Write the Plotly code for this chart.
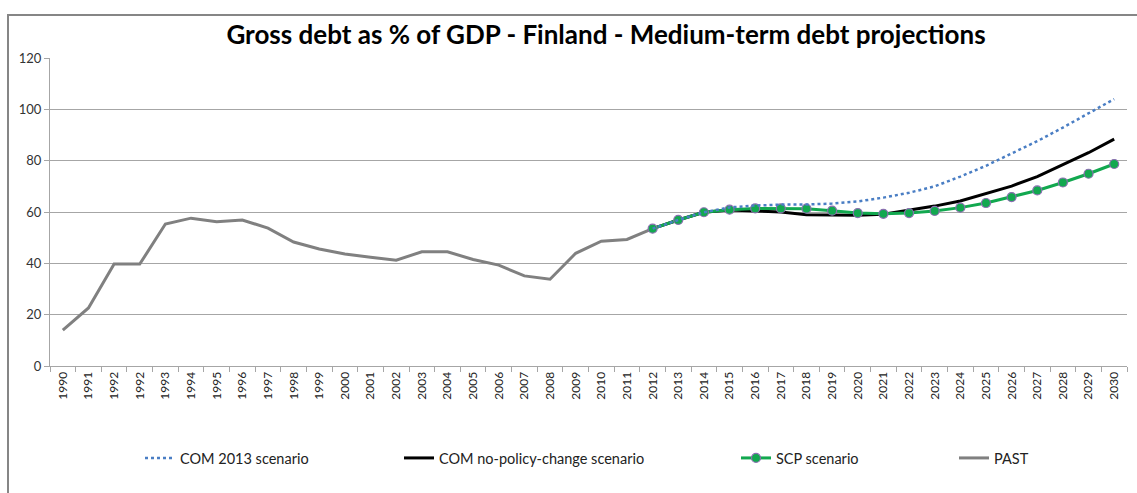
import plotly.graph_objects as go

# ---- data ----
tick_labels = ["1990", "1991", "1992", "1992", "1993", "1994", "1995", "1996", "1997",
               "1998", "1999", "2000", "2001", "2002", "2003", "2004", "2005", "2006",
               "2007", "2008", "2009", "2010", "2011", "2012", "2013", "2014", "2015",
               "2016", "2017", "2018", "2019", "2020", "2021", "2022", "2023", "2024",
               "2025", "2026", "2027", "2028", "2029", "2030"]

past = [14.0, 22.6, 39.7, 39.7, 55.3, 57.6, 56.2, 56.9, 53.7, 48.3, 45.6, 43.6,
        42.4, 41.2, 44.5, 44.5, 41.5, 39.3, 35.1, 33.8, 43.9, 48.6, 49.3, 53.5]

com_2013 = [53.5, 56.9, 59.9, 61.8, 62.5, 62.9, 62.9, 63.3, 64.1, 65.6, 67.5,
            70.0, 73.8, 78.0, 82.8, 87.6, 92.9, 98.4, 104.0]

com_npc = [53.5, 56.9, 59.9, 60.8, 60.4, 60.0, 58.9, 58.7, 58.7, 59.1, 60.7,
           62.3, 64.3, 67.3, 70.1, 73.8, 78.5, 83.1, 88.4]

scp = [53.5, 56.9, 59.9, 60.9, 61.4, 61.4, 61.3, 60.5, 59.6, 59.3, 59.6,
       60.4, 61.7, 63.5, 65.8, 68.4, 71.5, 74.9, 78.7]

y_ticks = [0, 20, 40, 60, 80, 100, 120]

# ---- positions ----
x_all = list(range(len(tick_labels)))
x_past = x_all[:len(past)]
x_proj = x_all[len(past) - 1:]

FONT = "Lato"
W, H = 1137, 493
L, R, T, B = 50, 10, 58, 127
PW = W - L - R
PH = H - T - B


def px_x(p):
    return (p - L) / PW


def px_y(p):
    return (H - B - p) / PH


fig = go.Figure()

fig.add_trace(go.Scatter(
    x=x_past, y=past, mode="lines", name="PAST",
    line=dict(color="#808080", width=3), legend="legend4"))

fig.add_trace(go.Scatter(
    x=x_proj, y=com_npc, mode="lines", name="COM no-policy-change scenario",
    line=dict(color="#000000", width=3), legend="legend2"))

fig.add_trace(go.Scatter(
    x=x_proj, y=scp, mode="lines+markers", name="SCP scenario",
    line=dict(color="#12A84F", width=3),
    marker=dict(color="#12A84F", size=9, line=dict(color="#8A6FB0", width=1.2)),
    legend="legend3"))

fig.add_trace(go.Scatter(
    x=x_proj, y=com_2013, mode="lines", name="COM 2013 scenario",
    line=dict(color="#4A7EC4", width=2.5, dash="dot"), legend="legend"))

legend_common = dict(orientation="h", yanchor="middle", xanchor="left",
                     font=dict(family=FONT, size=14.5, color="#222222"),
                     bgcolor="rgba(0,0,0,0)", borderwidth=0)
leg_y = px_y(458)

fig.update_layout(
    width=W, height=H,
    margin=dict(l=L, r=R, t=T, b=B),
    paper_bgcolor="white", plot_bgcolor="white",
    font=dict(family=FONT, color="#333333"),
    title=dict(text="<b>Gross debt as % of GDP - Finland - Medium-term debt projections</b>",
               font=dict(family=FONT, size=26, color="#000000"),
               xref="paper", x=px_x(606), xanchor="center",
               yref="container", y=1 - 35 / H, yanchor="middle"),
    showlegend=True,
    legend=dict(x=px_x(140), y=leg_y, **legend_common),
    legend2=dict(x=px_x(399), y=leg_y, **legend_common),
    legend3=dict(x=px_x(736), y=leg_y, **legend_common),
    legend4=dict(x=px_x(954), y=leg_y, **legend_common),
    xaxis=dict(
        range=[-0.5, len(tick_labels) - 0.5],
        tickmode="array", tickvals=x_all, ticktext=tick_labels,
        tickangle=-90, ticks="", showgrid=False,
        tickfont=dict(family=FONT, size=12, color="#222222"),
        showline=True, linecolor="#A6A6A6", linewidth=1,
        zeroline=False,
        minor=dict(tick0=-0.5, dtick=1, ticks="outside", ticklen=5,
                   tickcolor="#A6A6A6", showgrid=False),
    ),
    yaxis=dict(
        range=[0, 120], tickmode="array", tickvals=y_ticks,
        showgrid=True, gridcolor="#A6A6A6", gridwidth=1,
        ticks="outside", ticklen=5, tickcolor="#A6A6A6",
        tickfont=dict(family=FONT, size=13, color="#333333"),
        showline=True, linecolor="#A6A6A6", linewidth=1,
        zeroline=False,
    ),
    shapes=[dict(type="rect", xref="paper", yref="paper",
                 x0=px_x(8), x1=px_x(1145), y0=px_y(505), y1=px_y(15),
                 line=dict(color="#868686", width=2), fillcolor="rgba(0,0,0,0)",
                 layer="below")],
)

fig.write_html("out.html",
               config={"displayModeBar": False},
               post_script="document.body.style.margin='0';document.body.style.overflow='hidden';")
